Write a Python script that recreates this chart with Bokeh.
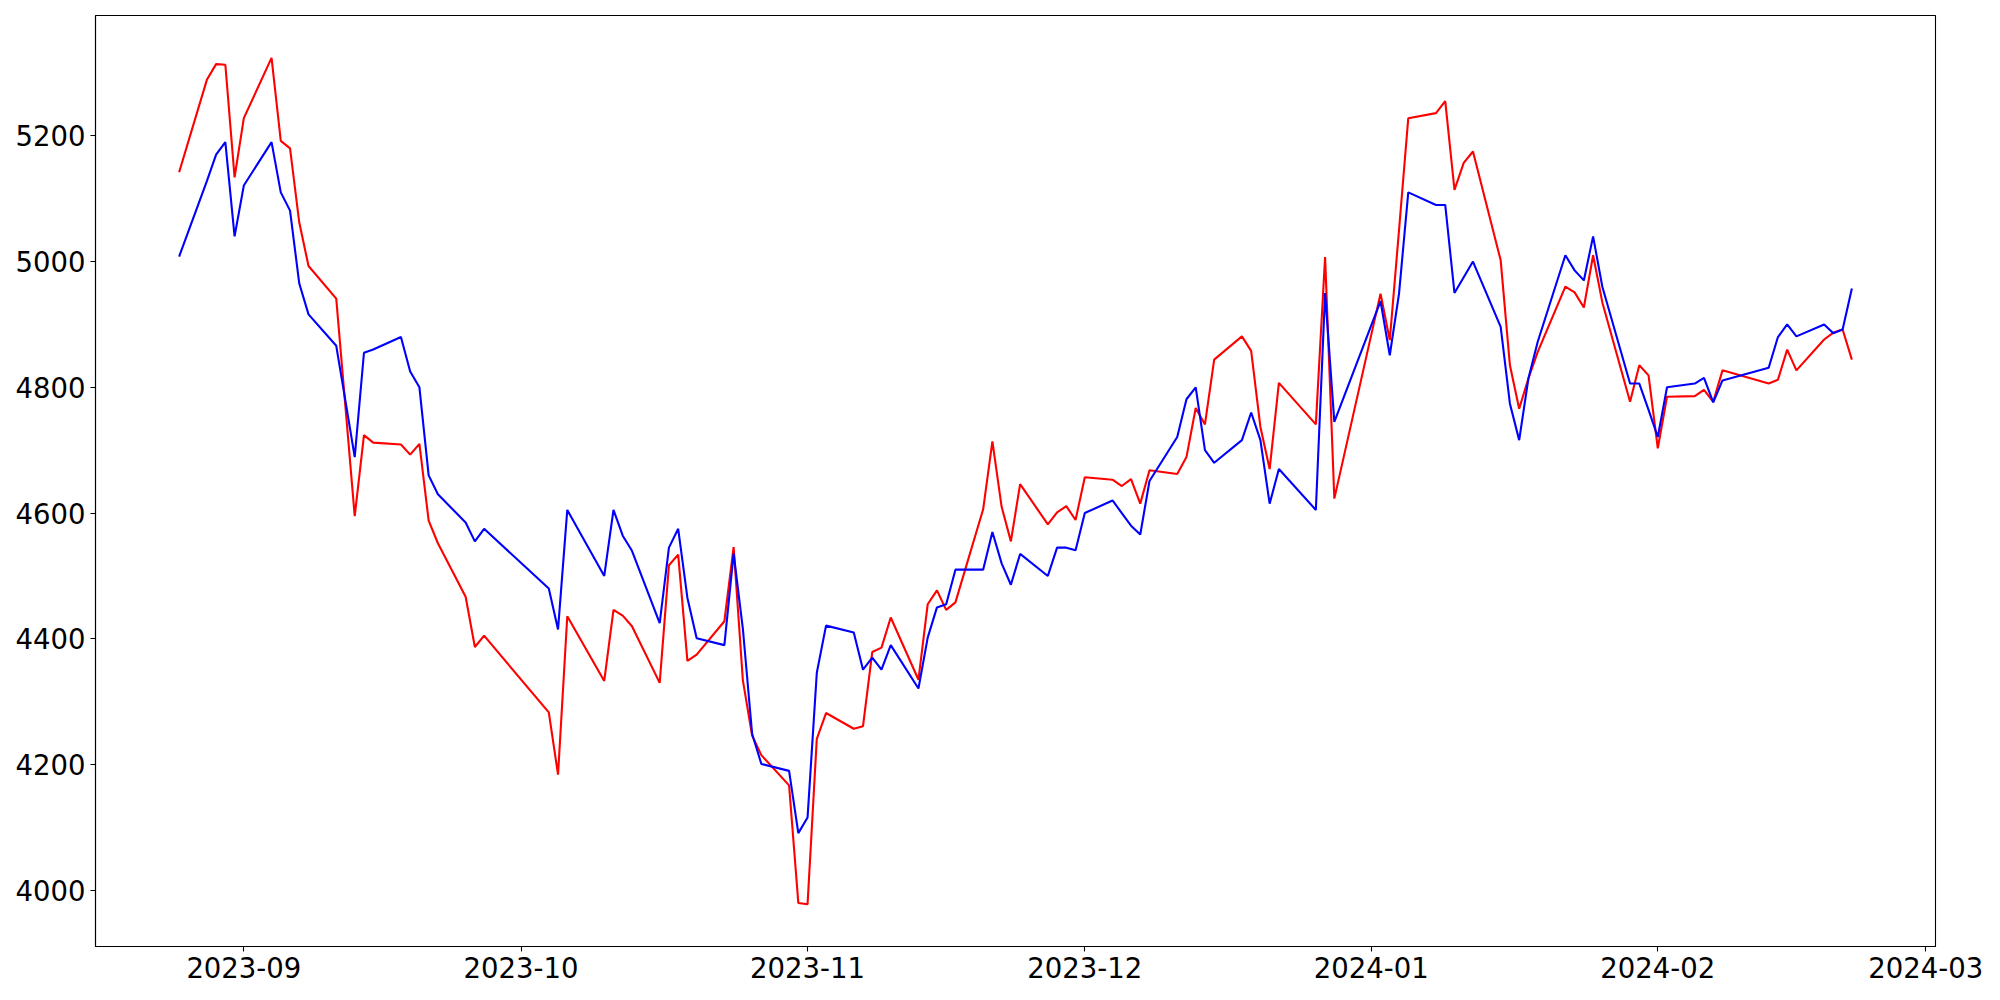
import pandas as pd
from bokeh.plotting import figure
from bokeh.models import Range1d, FixedTicker, DatetimeTickFormatter, ColumnDataSource
from bokeh.embed import file_html
from bokeh.resources import INLINE

# trading calendar (weekdays minus market holidays)
first_day = "2023-08-25"
last_day = "2024-02-22"
holidays = ["2023-09-28", "2023-09-29", "2023-10-02", "2023-10-03", "2023-10-09",
            "2023-12-25", "2023-12-29", "2024-01-01", "2024-02-09", "2024-02-12"]

red_values = [
    5142, 5289, 5314, 5313, 5134,                      # Aug 25-31
    5228, 5324, 5192, 5180, 5062, 4993,                # Sep 1-8
    4941, 4768, 4595, 4724, 4712,                      # Sep 11-15
    4709, 4693, 4710, 4588, 4552,                      # Sep 18-22
    4467, 4387, 4405,                                  # Sep 25-27
    4283, 4184, 4436,                                  # Oct 4-6
    4333, 4446, 4437, 4420,                            # Oct 10-13
    4330, 4517, 4534, 4365, 4375,                      # Oct 16-20
    4428, 4546, 4334, 4246, 4215,                      # Oct 23-27
    4167, 3980, 3978, 4241, 4282,                      # Oct 30-Nov 3
    4257, 4261, 4379, 4386, 4434,                      # Nov 6-10
    4335, 4455, 4477, 4446, 4458,                      # Nov 13-17
    4606, 4714, 4610, 4555, 4646,                      # Nov 20-24
    4582, 4601, 4611, 4589, 4657,                      # Nov 27-Dec 1
    4653, 4643, 4654, 4615, 4668,                      # Dec 4-8
    4662, 4689, 4767, 4741, 4844,                      # Dec 11-15
    4881, 4858, 4737, 4670, 4807,                      # Dec 18-22
    4741, 5007, 4623,                                  # Dec 26-28
    4949, 4875, 5050, 5228,                            # Jan 2-5
    5236, 5255, 5114, 5157, 5175,                      # Jan 8-12
    5002, 4835, 4766, 4814, 4856,                      # Jan 15-19
    4960, 4951, 4927, 5010, 4935,                      # Jan 22-26
    4777, 4835, 4819, 4703, 4785,                      # Jan 29-Feb 2
    4786, 4796, 4777, 4827,                            # Feb 5-8
    4806, 4812, 4860, 4827,                            # Feb 13-16
    4876, 4887, 4892, 4844,                            # Feb 19-22
]

blue_values = [
    5008, 5128, 5170, 5190, 5040,
    5121, 5190, 5110, 5081, 4965, 4916,
    4866, 4778, 4689, 4855, 4860,
    4880, 4825, 4800, 4660, 4630,
    4585, 4555, 4575,
    4480, 4415, 4605,
    4500, 4605, 4564, 4540,
    4425, 4545, 4575, 4465, 4401,
    4390, 4536, 4416, 4249, 4201,
    4190, 4091, 4116, 4346, 4421,
    4410, 4351, 4370, 4351, 4390,
    4321, 4402, 4450, 4455, 4510,
    4510, 4570, 4520, 4486, 4535,
    4500, 4545, 4545, 4541, 4600,
    4620, 4600, 4580, 4566, 4651,
    4721, 4781, 4800, 4700, 4680,
    4716, 4760, 4716, 4615, 4670,
    4605, 4950, 4745,
    4937, 4851, 4949, 5110,
    5090, 5090, 4950, 4975, 5000,
    4896, 4774, 4716, 4814, 4872,
    5010, 4986, 4970, 5040, 4960,
    4806, 4806, 4764, 4721, 4800,
    4806, 4815, 4776, 4811,
    4831, 4880, 4900, 4881,
    4900, 4886, 4892, 4957,
]

y_ticks = [4000, 4200, 4400, 4600, 4800, 5000, 5200]
x_tick_labels = ["2023-09-01", "2023-10-01", "2023-11-01", "2023-12-01",
                 "2024-01-01", "2024-02-01", "2024-03-01"]

dates = pd.bdate_range(first_day, last_day, freq="C", holidays=holidays)
assert len(dates) == len(red_values) == len(blue_values), (len(dates), len(red_values), len(blue_values))

src = ColumnDataSource(dict(date=dates, red=red_values, blue=blue_values))

span = dates[-1] - dates[0]
pad = span * 0.05
x0, x1 = dates[0] - pad, dates[-1] + pad
ymin = min(min(red_values), min(blue_values))
ymax = max(max(red_values), max(blue_values))
ypad = (ymax - ymin) * 0.05

p = figure(
    output_backend="svg", toolbar_location=None,
    x_axis_type="datetime",
    frame_width=1840, frame_height=931,
    min_border_left=95, min_border_top=15, min_border_right=57, min_border_bottom=46,
    x_range=Range1d(x0, x1), y_range=Range1d(ymin - ypad, ymax + ypad),
)
p.background_fill_color = "white"
p.border_fill_color = "white"
p.outline_line_color = "black"
p.outline_line_width = 1.1
p.xgrid.visible = False
p.ygrid.visible = False

p.line("date", "red", source=src, line_color="#ff0000", line_width=2.1)
p.line("date", "blue", source=src, line_color="#0000ff", line_width=2.1)

tick_ms = [pd.Timestamp(t).value // 10**6 for t in x_tick_labels]
p.xaxis.ticker = FixedTicker(ticks=tick_ms)
fmt = "%Y-%m"
p.xaxis.formatter = DatetimeTickFormatter(
    milliseconds=fmt, seconds=fmt, minsec=fmt, minutes=fmt, hourmin=fmt,
    hours=fmt, days=fmt, months=fmt, years=fmt)
p.yaxis.ticker = FixedTicker(ticks=y_ticks)

for ax in (p.xaxis[0], p.yaxis[0]):
    ax.major_label_text_font = "DejaVu Sans"
    ax.major_label_text_font_size = "27.5px"
    ax.major_label_text_color = "black"
    ax.axis_line_color = "black"
    ax.axis_line_width = 1.1
    ax.major_tick_line_color = "black"
    ax.major_tick_line_width = 1.1
    ax.major_tick_out = 5
    ax.major_tick_in = 0
    ax.minor_tick_out = 0
    ax.minor_tick_in = 0
    ax.major_label_standoff = 5

open("out.html", "w").write(file_html(p, INLINE))
